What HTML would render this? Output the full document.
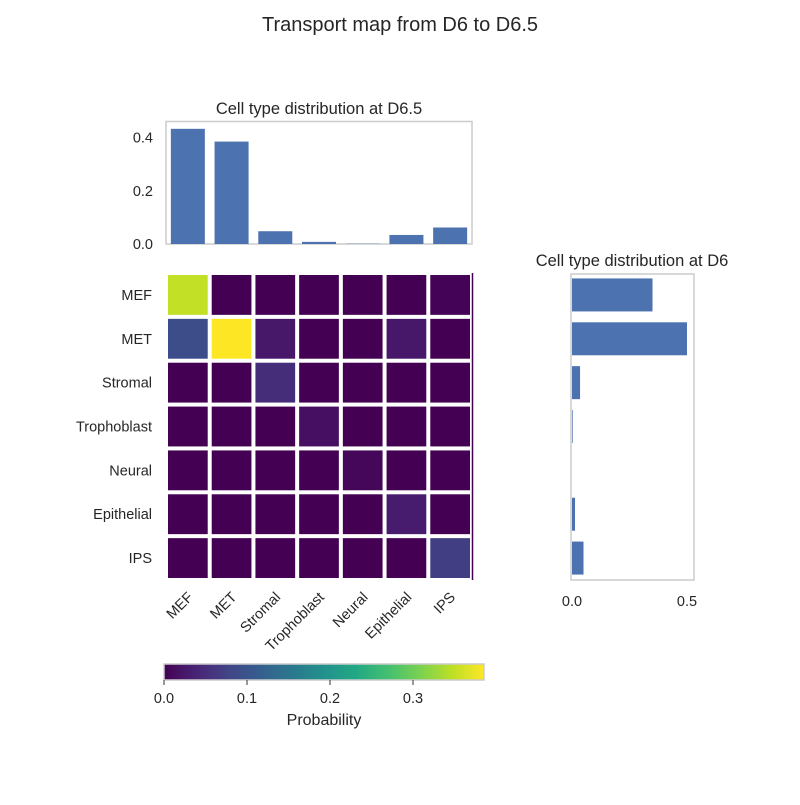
<!DOCTYPE html>
<html><head><meta charset="utf-8"><style>
body{margin:0;background:#fff}
svg text{font-family:"Liberation Sans","DejaVu Sans",sans-serif;fill:#262626}
</style></head><body>
<svg id="fig" width="800" height="800" viewBox="0 0 800 800">
<text x="400" y="31" font-size="20" text-anchor="middle">Transport map from D6 to D6.5</text>
<g id="top"></g>
<g id="heat"></g>
<g id="right"></g>
<g id="cbar"></g>
</svg>
<script>
const categories=["MEF","MET","Stromal","Trophoblast","Neural","Epithelial","IPS"];
const distD65=[0.433,0.385,0.048,0.008,0.001,0.034,0.062];
const distD6=[0.35,0.50,0.035,0.003,0.0,0.013,0.05];
const matrix=[
[0.35,0.0,0.0,0.0,0.0,0.0,0.002],
[0.09,0.386,0.025,0.0,0.0,0.025,0.0],
[0.0,0.0,0.05,0.0,0.0,0.0,0.0],
[0.0,0.0,0.0,0.015,0.0,0.0,0.0],
[0.0,0.0,0.0,0.0,0.007,0.0,0.0],
[0.0,0.0,0.0,0.0,0.0,0.03,0.0],
[0.0,0.0,0.0,0.0,0.0,0.0,0.07]];
const topTicks=[0,0.2,0.4];
const rightTicks=[0,0.5];
const cbarTicks=[0,0.1,0.2,0.3];
const vmax=0.386;
const NS="http://www.w3.org/2000/svg";
function mk(p,t,a){const e=document.createElementNS(NS,t);for(const k in a)e.setAttribute(k,a[k]);p.appendChild(e);return e;}
const stops=[[68,1,84],[72,36,117],[65,68,135],[53,95,141],[42,120,142],[33,145,140],[34,168,132],[68,191,112],[122,209,81],[189,223,38],[253,231,37]];
function viridis(t){t=Math.max(0,Math.min(1,t));const f=t*10,i=Math.min(9,Math.floor(f)),r=f-i;const a=stops[i],b=stops[i+1];return `rgb(${a.map((v,k)=>Math.round(v+(b[k]-v)*r)).join(",")})`;}
const X0=166,X1=472,Y0=273,Y1=580;
const cw=(X1-X0)/7,ch=(Y1-Y0)/7;
const xc=i=>X0+cw*(i+0.5), yc=j=>Y0+ch*(j+0.5);
const FS=14.5;
// top
const topG=document.getElementById('top');
const ty=v=>244-v*266;
let e=mk(topG,'rect',{x:166,y:121.5,width:306,height:122.5,fill:'none',stroke:'#ccc','stroke-width':1.5});


e=mk(topG,'text',{x:319,y:114,'font-size':16.5,'text-anchor':'middle'});e.textContent='Cell type distribution at D6.5';


topTicks.forEach(t=>{const l=mk(topG,'text',{x:153,y:ty(t)+5,'font-size':FS,'text-anchor':'end'});l.textContent=t.toFixed(1);

});
distD65.forEach((v,i)=>{const r=mk(topG,'rect',{x:xc(i)-17,y:ty(v),width:34,height:v*266,fill:'#4c72b0'});

});
// heatmap
const heat=document.getElementById('heat');
matrix.forEach((row,j)=>row.forEach((v,i)=>{const r=mk(heat,'rect',{x:X0+cw*i+2,y:Y0+ch*j+2,width:cw-4,height:ch-4,fill:viridis(v/vmax)});

}));
e=mk(heat,'line',{x1:472.5,y1:273,x2:472.5,y2:580,stroke:'#440154','stroke-width':1.5});


categories.forEach((c,j)=>{const l=mk(heat,'text',{x:152,y:yc(j)+5,'font-size':FS,'text-anchor':'end'});l.textContent=c;

});
categories.forEach((c,i)=>{const x=xc(i)+6,y=598;const l=mk(heat,'text',{x:x,y:y,'font-size':FS,'text-anchor':'end',transform:`rotate(-45 ${x} ${y})`});l.textContent=c;

});
// right
const rightG=document.getElementById('right');
const rx=v=>572+v*230;
e=mk(rightG,'rect',{x:571,y:274,width:123,height:306,fill:'none',stroke:'#ccc','stroke-width':1.5});


e=mk(rightG,'text',{x:632,y:266,'font-size':16.5,'text-anchor':'middle'});e.textContent='Cell type distribution at D6';


rightTicks.forEach(t=>{const l=mk(rightG,'text',{x:rx(t),y:606,'font-size':FS,'text-anchor':'middle'});l.textContent=t.toFixed(1);

});
distD6.forEach((v,i)=>{const r=mk(rightG,'rect',{x:rx(0),y:yc(i)-16.5,width:v*230,height:33,fill:'#4c72b0'});

});
// colorbar
const cb=document.getElementById('cbar');
const defs=mk(cb,'defs',{});const g=mk(defs,'linearGradient',{id:'vg',x1:0,x2:1,y1:0,y2:0});
for(let k=0;k<=20;k++)mk(g,'stop',{offset:k/20,'stop-color':viridis(k/20)});
const cx=v=>164+v*830;
e=mk(cb,'rect',{x:164,y:664,width:320,height:16,fill:'url(#vg)',stroke:'#ccc','stroke-width':1.5});


cbarTicks.forEach(t=>{const tk=mk(cb,'line',{x1:cx(t),x2:cx(t),y1:680,y2:685,stroke:'#333','stroke-width':1});


const l=mk(cb,'text',{x:cx(t),y:703,'font-size':FS,'text-anchor':'middle'});l.textContent=t.toFixed(1);

});
e=mk(cb,'text',{x:324,y:725,'font-size':16,'text-anchor':'middle'});e.textContent='Probability';


</script>
</body></html>
